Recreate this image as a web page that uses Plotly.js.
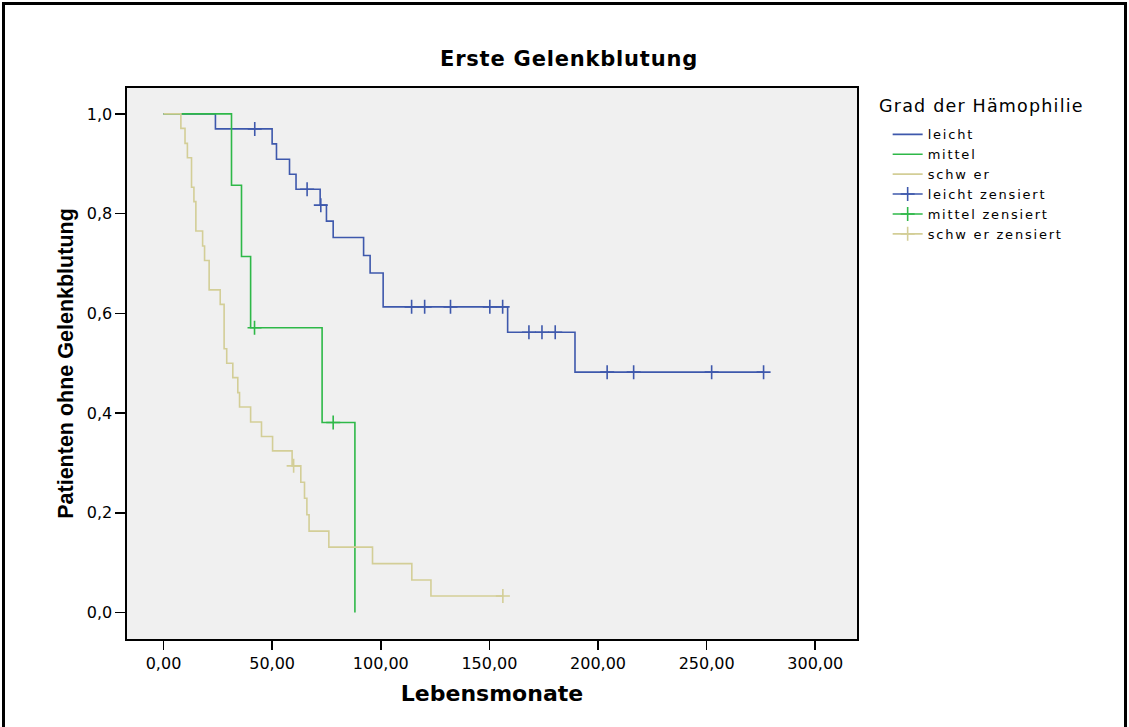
<!DOCTYPE html>
<html><head><meta charset="utf-8">
<script src="https://cdn.plot.ly/plotly-3.0.1.min.js"></script>
<style>
html,body{margin:0;padding:0;background:#fff;}
#chart{width:1129px;height:727px;}
#frame{position:absolute;left:2px;top:2px;width:1125px;height:800px;border:3px solid #000;border-bottom:none;box-sizing:border-box;pointer-events:none;}
.legendtext{letter-spacing:1.8px;}
.annotation-text{letter-spacing:1.2px;}
.gtitle{letter-spacing:0.8px;}
</style></head><body>
<div id="chart"></div><div id="frame"></div>
<script>
// Group labels and colours
const groupNames = ['leicht', 'mittel', 'schw er'];
const censorNames = ['leicht zensiert', 'mittel zensiert', 'schw er zensiert'];
const groupColors = ['#3E58AC', '#2EB848', '#D3CE97'];

// Kaplan-Meier event times (months) and survival after each event
const leichtTimes = [23.9, 50.0, 52.0, 58.0, 61.0, 72.1, 75.0, 78.1, 92.1, 95.1, 101.1, 158.4, 189.4];
const leichtSurv  = [0.970, 0.940, 0.909, 0.879, 0.849, 0.817, 0.785, 0.752, 0.716, 0.681, 0.613, 0.562, 0.482];
const leichtCensor = [42.0, 66.1, 72.4, 114.2, 120.2, 132.1, 150.2, 156.1, 168.2, 174.2, 180.3, 204.2, 216.4, 252.3, 276.2];

const mittelTimes = [31.3, 35.9, 40.1, 73.0, 88.1];
const mittelSurv  = [0.857, 0.714, 0.571, 0.381, 0.0];
const mittelCensor = [41.9, 78.1];

const schwerTimes = [8.0, 9.9, 11.0, 12.9, 14.0, 14.9, 18.0, 18.9, 21.0, 26.1, 27.9, 29.1, 31.9, 34.2, 35.0, 40.1, 45.1, 50.2, 59.2, 63.2, 64.9, 66.0, 67.0, 76.1, 96.2, 114.3, 123.1];
const schwerSurv  = [0.971, 0.941, 0.912, 0.853, 0.824, 0.765, 0.735, 0.706, 0.647, 0.618, 0.529, 0.500, 0.471, 0.441, 0.412, 0.382, 0.353, 0.324, 0.294, 0.261, 0.229, 0.196, 0.163, 0.131, 0.098, 0.065, 0.033];
const schwerCensor = [59.9, 156.2];

// Axis ticks
const xTicks = [0, 50, 100, 150, 200, 250, 300];
const yTicks = [0, 0.2, 0.4, 0.6, 0.8, 1.0];

const groups = [
  {times: leichtTimes, surv: leichtSurv, censor: leichtCensor},
  {times: mittelTimes, surv: mittelSurv, censor: mittelCensor},
  {times: schwerTimes, surv: schwerSurv, censor: schwerCensor}
];

function survAt(g, t) {
  let s = 1;
  for (let i = 0; i < g.times.length; i++) { if (g.times[i] <= t) s = g.surv[i]; }
  return s;
}

const traces = [];
groups.forEach((g, i) => {
  const x = [0].concat(g.times);
  const y = [1].concat(g.surv);
  const lastC = Math.max.apply(null, g.censor);
  if (lastC > g.times[g.times.length - 1]) { x.push(lastC); y.push(g.surv[g.surv.length - 1]); }
  traces.push({
    type: 'scatter', mode: 'lines', name: groupNames[i], x: x, y: y,
    line: {shape: 'hv', color: groupColors[i], width: 1.6},
    hoverinfo: 'skip'
  });
});
groups.forEach((g, i) => {
  const x = [], y = [];
  g.censor.forEach((c, k) => { if (k) { x.push(null); y.push(null); } x.push(c); y.push(survAt(g, c)); });
  traces.push({
    type: 'scatter', mode: 'lines+markers', name: censorNames[i], x: x, y: y,
    connectgaps: false,
    line: {color: groupColors[i], width: 1.6},
    marker: {symbol: 'cross-thin', size: 10, color: groupColors[i], line: {color: groupColors[i], width: 1.6}},
    hoverinfo: 'skip'
  });
});

const layout = {
  width: 1129, height: 727,
  margin: {l: 127, r: 272, t: 88, b: 88},
  paper_bgcolor: '#ffffff', plot_bgcolor: '#F0F0F0',
  separators: ',.',
  font: {family: 'DejaVu Sans', color: '#000', size: 16},
  showlegend: true,
  title: {text: '<b>Erste Gelenkblutung</b>', font: {family: 'DejaVu Sans', size: 21, color: '#000'},
          x: 0.504, xref: 'container', xanchor: 'center', y: 0.919, yref: 'container', yanchor: 'middle'},
  xaxis: {
    range: [-16.8, 319.2], tickvals: xTicks, tickformat: '.2f',
    showline: true, linecolor: '#000', linewidth: 1.6, mirror: true,
    ticks: 'outside', ticklen: 9, tickwidth: 1.6, tickcolor: '#000',
    showgrid: false, zeroline: false,
    tickfont: {family: 'DejaVu Sans', size: 16},
    title: {text: '<b>Lebensmonate</b>', font: {family: 'DejaVu Sans', size: 22}, standoff: 14}
  },
  yaxis: {
    range: [-0.0533, 1.052], tickvals: yTicks, tickformat: '.1f',
    showline: true, linecolor: '#000', linewidth: 1.6, mirror: true,
    ticks: 'outside', ticklen: 10, tickwidth: 1.6, tickcolor: '#000',
    showgrid: false, zeroline: false,
    tickfont: {family: 'DejaVu Sans', size: 16},
    title: {text: '<b>Patienten ohne Gelenkblutung</b>', font: {family: 'Liberation Sans', size: 21.5}, standoff: 7}
  },
  legend: {
    x: 1.042, xanchor: 'left', y: 0.943, yanchor: 'top',
    font: {family: 'DejaVu Sans', size: 13, color: '#000'},
    bgcolor: 'rgba(0,0,0,0)', borderwidth: 0, itemwidth: 30, tracegroupgap: 0
  },
  annotations: [{
    text: 'Grad der Hämophilie', xref: 'paper', yref: 'paper', x: 1.0274, y: 0.967,
    xanchor: 'left', yanchor: 'middle', showarrow: false,
    font: {family: 'DejaVu Sans', size: 17.5, color: '#000'}
  }]
};

Plotly.newPlot('chart', traces, layout, {staticPlot: true, displayModeBar: false});
</script>
</body></html>
